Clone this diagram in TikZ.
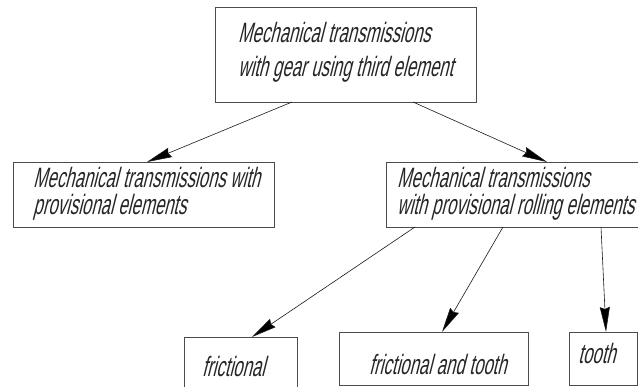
\documentclass[tikz,border=0pt]{standalone}
\usepackage{fontspec}
\usetikzlibrary{arrows.meta}
\newfontfamily\gostfont[FakeSlant=0.25,FakeStretch=0.6]{Liberation Sans}
\begin{document}
\begin{tikzpicture}[x=1pt,y=-1pt,
  box/.style={draw=black!70,line width=0.8pt,rectangle,inner sep=0pt,outer sep=0pt},
  lbl/.style={anchor=base west,inner sep=0pt,align=left,font=\gostfont\fontsize{28}{34}\selectfont,text=black!85},
  lblm/.style={lbl,font=\gostfont\fontsize{28}{26.5}\selectfont},
  arr/.style={draw=black!90,line width=0.6pt,-{Stealth[length=25pt,width=10pt,inset=2pt,fill=black,line width=0.6pt]}}]
\useasboundingbox (0,0) rectangle (638,387);
\fill[white] (0,0) rectangle (638,387);
% boxes
\node[box,minimum width=261pt,minimum height=95pt] (top) at (345.5,54.5) {};
\node[box,minimum width=261pt,minimum height=65pt] (left) at (143.5,194.5) {};
\node[box,minimum width=261pt,minimum height=65pt] (right) at (516.5,194.5) {};
\node[box,minimum width=113pt,minimum height=57pt] (fric) at (240.5,365.5) {};
\node[box,minimum width=189pt,minimum height=53pt] (fat) at (433.5,358.5) {};
\node[box,minimum width=68pt,minimum height=53pt] (tooth) at (603,358.5) {};
% texts (anchor = baseline of last line)
\node[lbl] (ttop) at (238,77) {Mechanical transmissions\\with gear using third element};
\node[lblm] (tleft) at (33,214.5) {Mechanical transmissions with\\provisional elements};
\node[lblm] (tright) at (397,214.5) {Mechanical transmissions\\with provisional rolling elements};
\node[lbl] (tfric) at (202,377) {frictional};
\node[lbl] (tfat) at (369,375) {frictional and tooth};
\node[lbl] (ttooth) at (578,364) {tooth};
% connectors
\draw[arr] ([xshift=-53.5pt]top.south) -- ([xshift=3.5pt]left.north);
\draw[arr] ([xshift=67.5pt]top.south) -- ([xshift=30.5pt]right.north);
\draw[arr] ([xshift=-101.5pt]right.south) -- ([xshift=11.5pt]fric.north);
\draw[arr] ([xshift=-13.5pt]right.south) -- ([xshift=8.5pt]fat.north);
\draw[arr] ([xshift=84.5pt]right.south) -- ([xshift=3pt]tooth.north);
\end{tikzpicture}
\end{document}
